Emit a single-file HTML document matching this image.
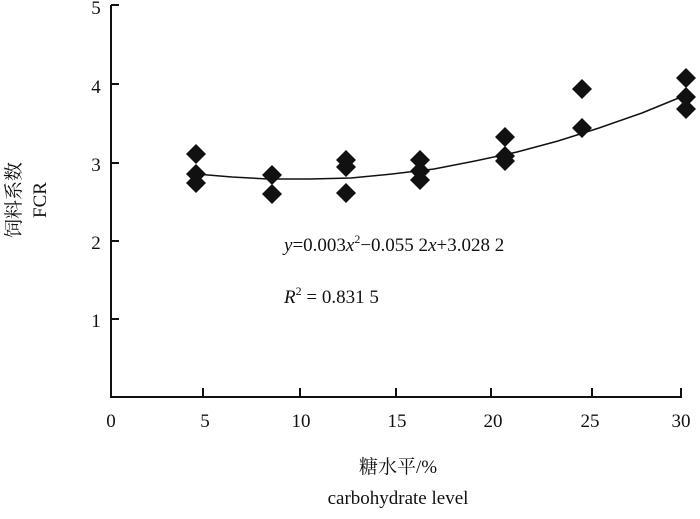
<!DOCTYPE html>
<html><head><meta charset="utf-8"><style>
body{margin:0;background:#fff}
svg text{font-family:"Liberation Serif","Noto Serif CJK SC",serif;fill:#111}
</style></head><body>
<svg width="700" height="514" viewBox="0 0 700 514" xmlns="http://www.w3.org/2000/svg">
<g stroke="#111" stroke-width="2" fill="none">
<path d="M111,5 V397 H682"/>
<path d="M111,5 h8 M111,84 h8 M111,163 h8 M111,241 h8 M111,319 h8"/>
<path d="M203,397 v-9 M300,397 v-9 M396,397 v-9 M491,397 v-9 M592,397 v-9 M681,397 v-9"/>
<polyline stroke-width="1.5" points="196,174 232,177 268,179 310,179 351,178 392,174 434,169 475,161 517,152 558,141 599,128 642,113 686,95"/>
</g>
<g font-size="19" text-anchor="middle">
<text x="96" y="14">5</text><text x="96" y="93">4</text><text x="96" y="171">3</text><text x="96" y="249">2</text><text x="96" y="327">1</text>
<text x="111" y="427">0</text><text x="205" y="427">5</text><text x="301" y="427">10</text><text x="397" y="427">15</text><text x="493" y="427">20</text><text x="590" y="427">25</text><text x="681" y="427">30</text>
</g>
<g fill="#111">
<script>
</script>
</g>
<g fill="#111" id="pts"></g>
<g fill="#111">
<path d="M196,144l10,10-10,10-10-10z M196,164l10,10-10,10-10-10z M196,173l10,10-10,10-10-10z
M272,165l10,10-10,10-10-10z M272,184l10,10-10,10-10-10z
M346,150l10,10-10,10-10-10z M346,157l10,10-10,10-10-10z M346,183l10,10-10,10-10-10z
M420,150l10,10-10,10-10-10z M420,161l10,10-10,10-10-10z M420,170l10,10-10,10-10-10z
M505,127l10,10-10,10-10-10z M505,146l10,10-10,10-10-10z M505,151l10,10-10,10-10-10z
M582,79l10,10-10,10-10-10z M582,118l10,10-10,10-10-10z
M686,68l10,10-10,10-10-10z M686,87l10,10-10,10-10-10z M686,99l10,10-10,10-10-10z"/>
</g>
<text x="284" y="251" font-size="19"><tspan font-style="italic">y</tspan>=0.003<tspan font-style="italic">x</tspan><tspan font-size="12" dy="-8">2</tspan><tspan dy="8">−0.055 2</tspan><tspan font-style="italic">x</tspan>+3.028 2</text>
<text x="284" y="303" font-size="19"><tspan font-style="italic">R</tspan><tspan font-size="12" dy="-8">2</tspan><tspan dy="8"> = 0.831 5</tspan></text>
<text transform="translate(20,200) rotate(-90)" font-size="19" text-anchor="middle">饲料系数</text>
<text transform="translate(46,200) rotate(-90)" font-size="19" text-anchor="middle">FCR</text>
<text x="398" y="473" font-size="19" text-anchor="middle">糖水平/%</text>
<text x="398" y="504" font-size="19" text-anchor="middle">carbohydrate level</text>
</svg>
</body></html>
